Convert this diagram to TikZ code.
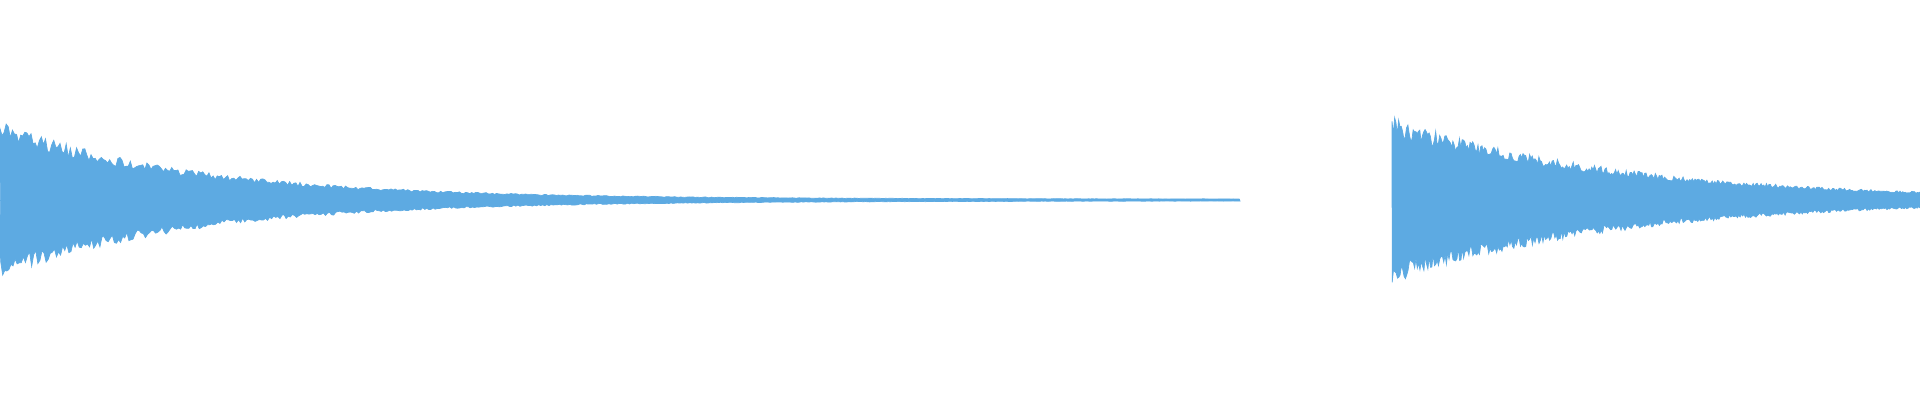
\documentclass[tikz,border=0pt]{standalone}
\usepackage{tikz}
\definecolor{wave}{HTML}{5DAAE2}
\tikzset{wavefill/.style={fill=wave, draw=wave, line width=0.2pt}}
\begin{document}
\begin{tikzpicture}
        \useasboundingbox (0,0) rectangle (19.2,4);
        \pgfmathsetseed{7}
        % First burst, decaying
        \fill[wavefill] plot[domain=0:12.4, samples=600]
          (\x, {2+(0.01+0.76*exp(-\x/1.95))*(0.9+0.12*rand)})
          -- plot[domain=12.4:0, samples=600]
          (\x, {2-(0.01+0.76*exp(-\x/1.95))*(0.9+0.12*rand)}) -- cycle;
        \draw[wave, line width=0.25pt] (0,2) -- (12.4,2);
        % Second burst
        \fill[wavefill] plot[domain=13.92:19.2, samples=400]
          (\x, {2+0.82*exp(-(\x-13.92)/2.3)*(0.9+0.12*rand)})
          -- plot[domain=19.2:13.92, samples=400]
          (\x, {2-0.82*exp(-(\x-13.92)/2.3)*(0.9+0.12*rand)}) -- cycle;
\end{tikzpicture}
\end{document}
